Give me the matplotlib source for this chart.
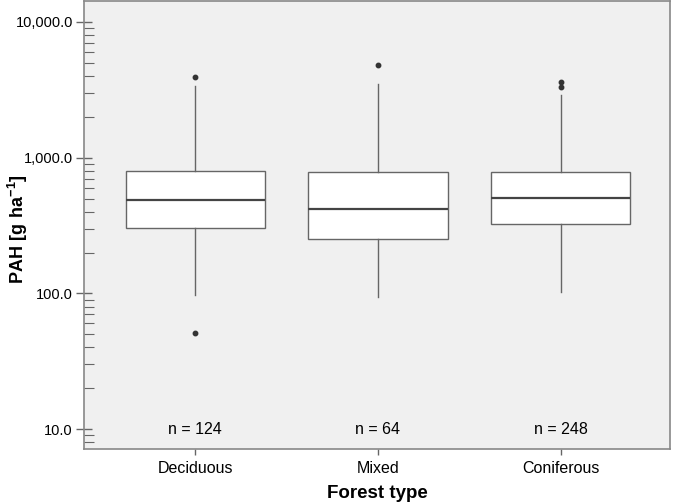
import matplotlib
matplotlib.use("Agg")
import matplotlib.pyplot as plt
from matplotlib.ticker import FuncFormatter, LogLocator

plt.rcParams['font.family'] = ['Liberation Sans', 'DejaVu Sans']
plt.rcParams['mathtext.fontset'] = 'custom'
plt.rcParams['mathtext.rm'] = 'Liberation Sans'
plt.rcParams['mathtext.bf'] = 'Liberation Sans:bold'

# valeurs (g/ha)
categories = ["Deciduous", "Mixed", "Coniferous"]
n_counts = [124, 64, 248]
whisker_low = [97, 93.5, 102]
q1 = [303, 252, 325]
medians = [485, 421, 507]
q3 = [802, 780, 789]
whisker_high = [3375, 3475, 2885]
outliers = [[3955, 50.8], [4820], [3630, 3305]]

stats = []
for i, name in enumerate(categories):
    stats.append({
        "label": name,
        "whislo": whisker_low[i],
        "q1": q1[i],
        "med": medians[i],
        "q3": q3[i],
        "whishi": whisker_high[i],
        "fliers": outliers[i],
    })

fig = plt.figure(figsize=(6.85, 5.03), dpi=100)
ax = fig.add_axes([0.1226, 0.1074, 0.8555, 0.8906])
ax.set_facecolor("#f0f0f0")

edge = "#666666"
ax.bxp(stats, positions=[1, 2, 3], widths=0.76, showcaps=False, patch_artist=True,
       boxprops=dict(facecolor="white", edgecolor=edge, linewidth=1.0),
       whiskerprops=dict(color=edge, linewidth=1.0),
       medianprops=dict(color="#444444", linewidth=1.6),
       flierprops=dict(marker="o", markersize=3.2, markerfacecolor="#333333",
                       markeredgecolor="#333333"))

ax.set_yscale("log")
ax.set_ylim(7.13, 14280)
ax.set_xlim(0.393, 3.596)

ax.yaxis.set_major_locator(LogLocator(base=10, numticks=10))
ax.yaxis.set_minor_locator(LogLocator(base=10, subs=range(2, 10), numticks=20))
ax.yaxis.set_major_formatter(FuncFormatter(lambda v, p: "{:,.1f}".format(v)))
ax.yaxis.set_minor_formatter(FuncFormatter(lambda v, p: ""))

ax.tick_params(axis="y", which="major", direction="inout", length=12, width=1.0,
               color="#666666", labelsize=10.5, pad=2)
ax.tick_params(axis="y", which="minor", direction="in", length=7, width=0.8,
               color="#666666")
ax.tick_params(axis="x", which="major", direction="out", length=4, width=1.0,
               color="#666666", labelsize=11.5, pad=5)
ax.set_xticks([1, 2, 3])
ax.set_xticklabels(categories)

for sp in ax.spines.values():
    sp.set_color("#888888")
    sp.set_linewidth(1.2)

# effectifs en bas de chaque boite
for i, n in enumerate(n_counts):
    ax.text(i + 1, 10.0, "n = {}".format(n), ha="center", va="center", fontsize=11.5)

ax.set_xlabel("Forest type", fontsize=13.5, fontweight="bold", labelpad=6)
ax.set_ylabel(r"$\mathbf{PAH\ [g\ ha^{-1}]}$", fontsize=13)
ax.yaxis.set_label_coords(-0.092, 0.49)

fig.savefig("out.png", dpi=100)
